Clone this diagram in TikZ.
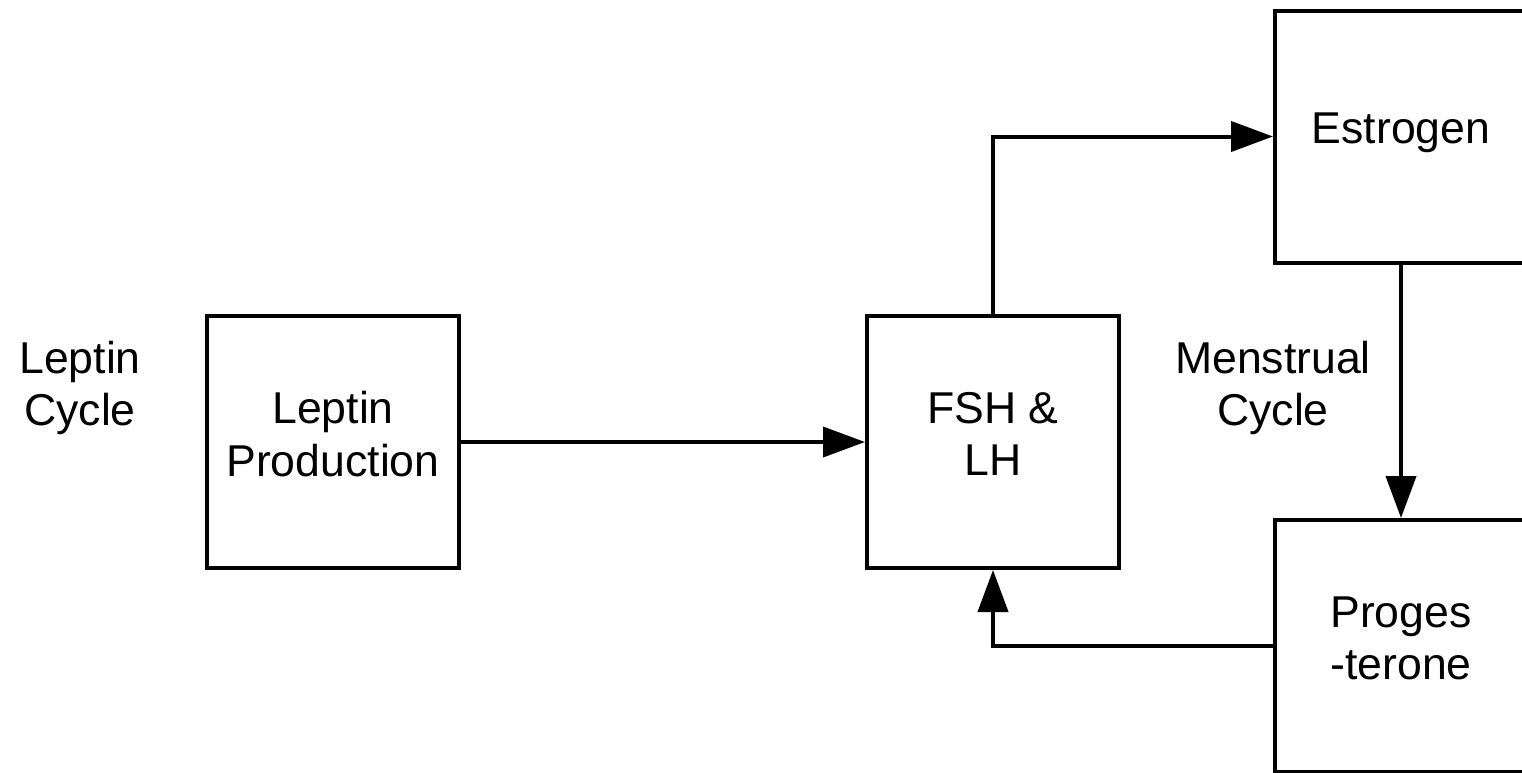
\documentclass[tikz,border=0pt]{standalone}
\usepackage{fontspec}
\setmainfont{Liberation Sans}
\usetikzlibrary{arrows.meta}

\tikzstyle{hormone} = [draw, line width=2pt, minimum width=126pt, minimum height=126pt, align=center, font=\fontsize{22.3}{26.3}\selectfont, inner sep=0pt, text depth=8pt]
\tikzstyle{cyclelabel} = [align=center, font=\fontsize{22.3}{26.3}\selectfont]
\tikzstyle{flow} = [line width=2pt, -{Triangle[length=21pt,width=15pt]}]

\begin{document}
\begin{tikzpicture}[x=0.5pt, y=-0.5pt]
\useasboundingbox (0,0) rectangle (1522,772);
\clip (0,0) rectangle (1522,772);
%labels
\node[cyclelabel] (leptincycle) at (80,388) {Leptin\\Cycle};
\node[cyclelabel] (menscycle) at (1273,388) {Menstrual\\Cycle};
%boxes
\node[hormone] (leptin) at (333,442) {Leptin\\Production};
\node[hormone] (fsh) at (993,442) {FSH \&\\LH};
\node[hormone] (estrogen) at (1401,136.5) {Estrogen};
\node[hormone] (proges) at (1401,646) {Proges\\-terone};
%arrows
\draw[flow] (leptin) -- (fsh);
\draw[flow] (fsh.north) |- (estrogen.west);
\draw[flow] (estrogen.south) -- (proges.north);
\draw[flow] (proges.west) -| (fsh.south);
\end{tikzpicture}
\end{document}
